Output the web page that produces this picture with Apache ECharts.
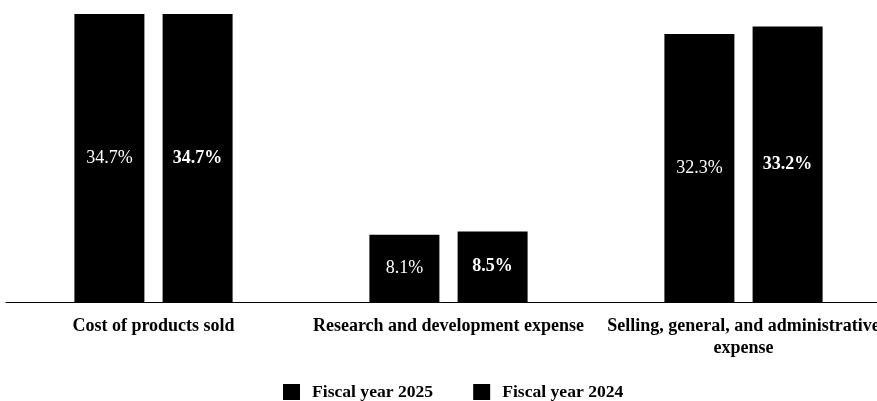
<!DOCTYPE html>
<html><head><meta charset="utf-8">
<script src="https://cdn.jsdelivr.net/npm/echarts@6/dist/echarts.min.js"></script>
<style>html,body{margin:0;padding:0;background:#fff}#c{width:877px;height:401px}</style>
</head><body><div id="c"></div>
<script>
const categories = ["Cost of products sold", "Research and development expense", "Selling, general, and administrative\nexpense"];
const seriesNames = ["Fiscal year 2025", "Fiscal year 2024"];
const fy2025 = [34.7, 8.1, 32.3];
const fy2024 = [34.7, 8.5, 33.2];
const font = "'Liberation Serif', 'Times New Roman', serif";
const chart = echarts.init(document.getElementById('c'));
chart.setOption({
  animation: false,
  textStyle: {fontFamily: font},
  grid: {left: 6, width: 885, top: 14, bottom: 99, containLabel: false, outerBoundsMode: 'none'},
  legend: {
    bottom: -5, left: 278, itemWidth: 17, itemHeight: 16, itemGap: 40,
    icon: 'rect',
    textStyle: {fontFamily: font, fontWeight: 'bold', fontSize: 17.6, color: '#000', padding: [0, 0, 0, 7]},
    data: seriesNames
  },
  xAxis: {
    type: 'category', data: categories,
    axisLine: {lineStyle: {color: '#000', width: 1}},
    axisTick: {show: false},
    axisLabel: {fontFamily: font, fontWeight: 'bold', fontSize: 18, color: '#000', margin: 13, lineHeight: 22, interval: 0}
  },
  yAxis: {type: 'value', min: 0, max: 34.7, show: false, splitLine: {show: false}},
  series: [
    {name: seriesNames[0], type: 'bar', data: fy2025, barWidth: 70, barGap: '26%',
     itemStyle: {color: '#000'},
     label: {show: true, position: 'inside', formatter: p => p.value.toFixed(1) + '%', color: '#fff', fontFamily: font, fontSize: 18}},
    {name: seriesNames[1], type: 'bar', data: fy2024, barWidth: 70,
     itemStyle: {color: '#000'},
     label: {show: true, position: 'inside', formatter: p => p.value.toFixed(1) + '%', color: '#fff', fontFamily: font, fontWeight: 'bold', fontSize: 18}}
  ]
});
</script></body></html>
